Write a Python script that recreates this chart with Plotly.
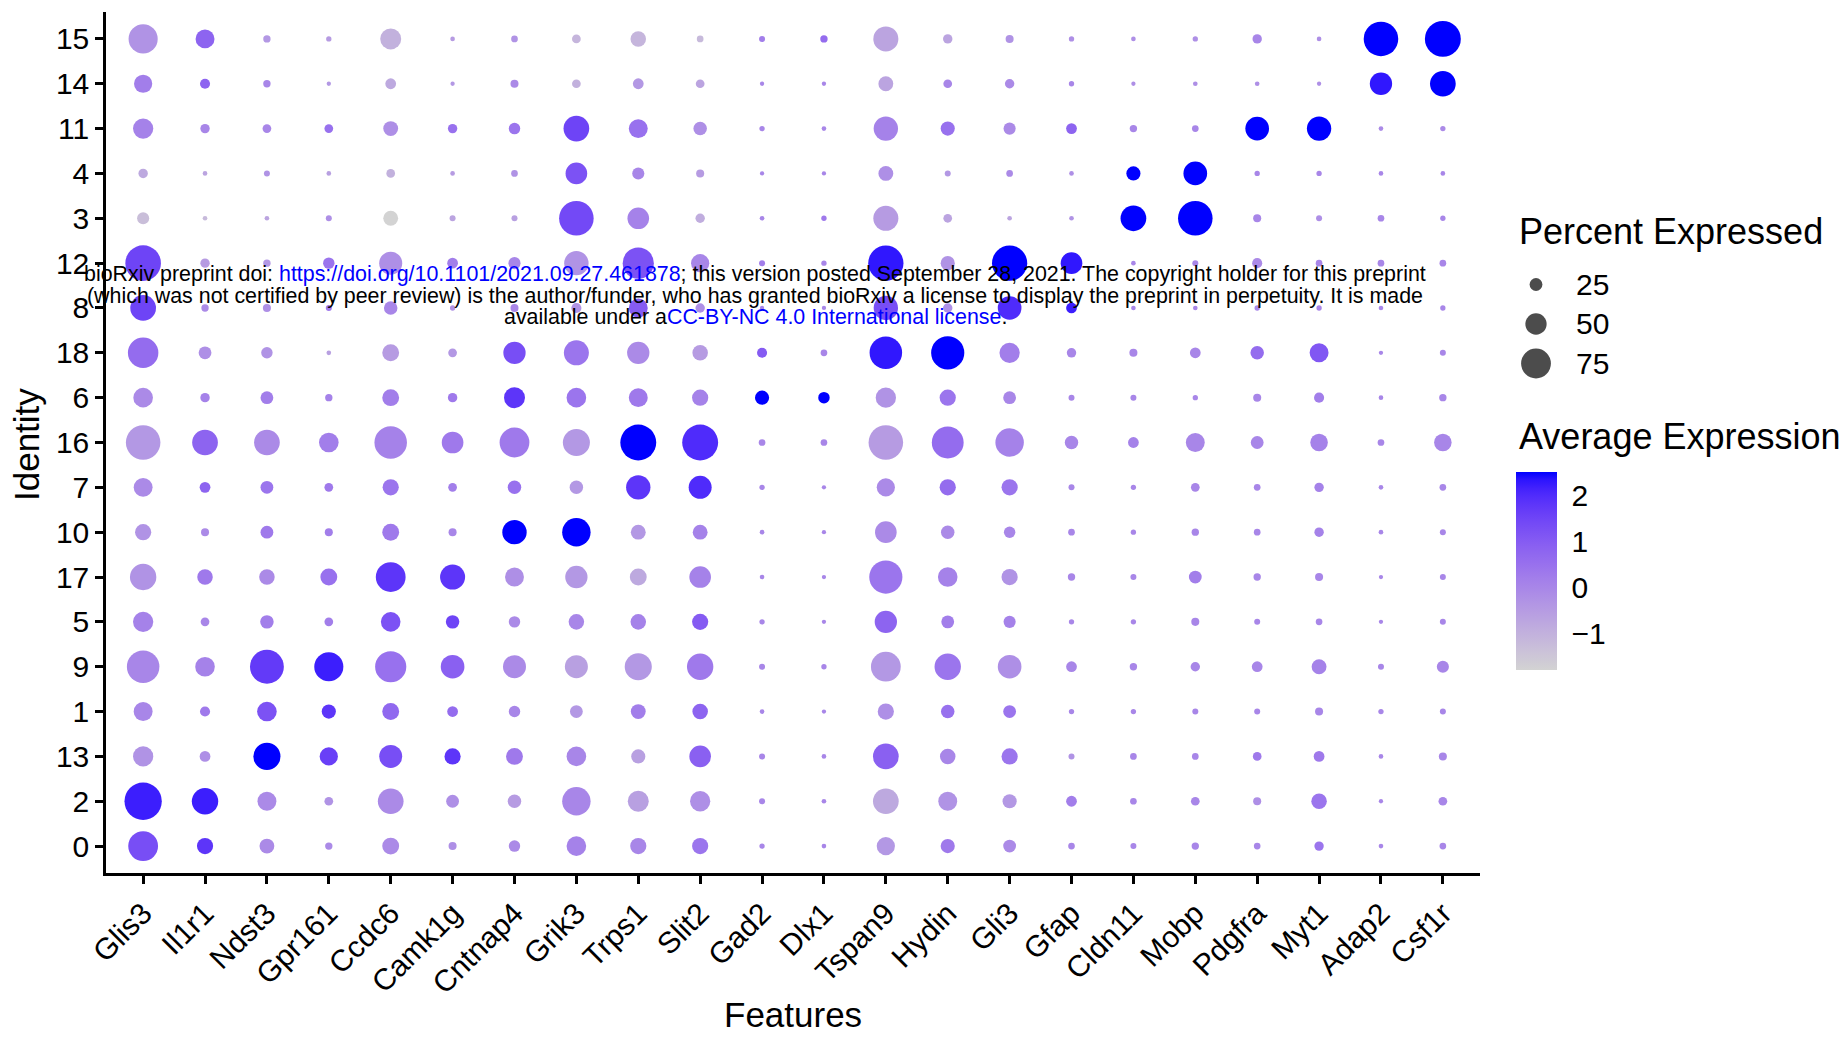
import plotly.graph_objects as go

W, H = 1844, 1038

features = ["Glis3", "Il1r1", "Ndst3", "Gpr161", "Ccdc6", "Camk1g", "Cntnap4", "Grik3",
            "Trps1", "Slit2", "Gad2", "Dlx1", "Tspan9", "Hydin", "Gli3", "Gfap",
            "Cldn11", "Mobp", "Pdgfra", "Myt1", "Adap2", "Csf1r"]

# identities from bottom to top
identities = ["0", "2", "13", "1", "9", "5", "17", "10", "7", "16", "6", "18", "8", "12", "3", "4", "11", "14", "15"]

# Percent expressed per identity (order of features)
pct_15 = [73, 43, 9, 3, 49, 1, 7, 13, 33, 7, 5, 9, 61, 15, 11, 3, 1, 3, 15, 1, 89, 93]
pct_14 = [41, 17, 9, 0, 19, 0, 11, 13, 19, 13, 0, 0, 31, 13, 15, 3, 0, 1, 1, 0, 53, 63]
pct_11 = [47, 15, 13, 13, 31, 15, 21, 63, 43, 27, 3, 1, 59, 29, 23, 19, 9, 7, 57, 59, 1, 3]
pct_4 = [15, 1, 5, 1, 13, 1, 7, 51, 23, 11, 0, 0, 31, 5, 7, 1, 29, 57, 3, 3, 1, 1]
pct_3 = [23, 1, 1, 5, 31, 5, 5, 89, 51, 15, 1, 3, 61, 13, 1, 1, 63, 89, 11, 5, 7, 3]
pct_12 = [92, 15, 9, 21, 55, 19, 23, 59, 79, 41, 5, 3, 91, 29, 91, 51, 1, 5, 17, 7, 7, 7]
pct_8 = [63, 9, 11, 5, 27, 3, 11, 17, 43, 15, 0, 0, 59, 15, 57, 19, 1, 1, 3, 3, 1, 3]
pct_18 = [77, 25, 21, 1, 37, 13, 53, 61, 53, 33, 17, 7, 83, 85, 47, 15, 11, 19, 27, 43, 0, 5]
pct_6 = [45, 15, 25, 9, 37, 15, 49, 45, 43, 35, 29, 21, 47, 35, 25, 5, 5, 3, 11, 17, 1, 9]
pct_16 = [89, 63, 63, 45, 83, 51, 75, 67, 93, 93, 7, 7, 89, 81, 71, 27, 19, 43, 25, 39, 7, 39]
pct_7 = [43, 19, 25, 13, 35, 13, 27, 27, 59, 55, 3, 0, 41, 35, 35, 5, 3, 13, 7, 15, 1, 7]
pct_10 = [35, 11, 25, 11, 37, 11, 59, 71, 31, 31, 1, 0, 51, 27, 21, 7, 3, 9, 7, 15, 1, 5]
pct_17 = [65, 33, 33, 37, 75, 61, 43, 53, 37, 51, 1, 0, 85, 45, 35, 9, 5, 25, 9, 11, 0, 5]
pct_5 = [47, 13, 27, 13, 45, 27, 21, 33, 33, 35, 3, 0, 53, 25, 23, 3, 3, 11, 5, 7, 0, 5]
pct_9 = [83, 45, 87, 73, 79, 57, 55, 55, 67, 65, 5, 3, 75, 65, 57, 19, 9, 15, 19, 31, 5, 23]
pct_1 = [43, 17, 45, 29, 37, 19, 21, 25, 31, 33, 1, 0, 35, 27, 25, 3, 3, 5, 5, 11, 3, 5]
pct_13 = [47, 19, 67, 41, 55, 35, 37, 45, 29, 51, 5, 1, 63, 33, 35, 5, 7, 7, 13, 19, 1, 11]
pct_2 = [97, 65, 43, 13, 63, 25, 27, 71, 49, 47, 5, 1, 63, 43, 29, 19, 7, 13, 11, 33, 0, 13]
pct_0 = [75, 35, 31, 9, 37, 11, 21, 45, 35, 35, 3, 1, 41, 29, 25, 7, 5, 9, 7, 15, 1, 7]

# Average (scaled) expression per identity
avg_15 = [-0.3, 0.8, -0.4, -0.5, -1.0, -0.5, -0.3, -1.1, -1.1, -1.2, 0.2, 0.6, -0.7, -0.7, -0.3, -0.2, -0.2, -0.2, 0.0, -0.2, 2.5, 2.5]
avg_14 = [0.2, 0.8, 0.0, -0.4, -0.8, -0.4, -0.1, -1.0, -0.4, -0.7, 0.0, 0.0, -0.7, 0.0, -0.1, 0.0, -0.2, -0.2, -0.2, -0.2, 2.3, 2.5]
avg_11 = [0.1, 0.0, 0.0, 0.5, -0.2, 0.5, 0.4, 1.5, 0.5, -0.2, 0.0, 0.0, 0.1, 0.5, -0.1, 0.8, 0.0, 0.0, 2.5, 2.5, -0.1, -0.1]
avg_4 = [-0.8, -0.7, -0.3, -0.6, -1.0, -0.5, -0.3, 1.2, 0.0, -0.5, 0.0, 0.0, -0.2, -0.4, -0.1, -0.2, 2.5, 2.5, 0.0, 0.0, 0.0, 0.0]
avg_3 = [-1.3, -1.2, -0.7, -0.2, -1.8, -0.7, -0.6, 1.4, 0.1, -0.9, 0.0, 0.3, -0.5, -0.7, -0.7, -0.3, 2.5, 2.5, 0.0, -0.2, 0.0, 0.0]
avg_12 = [1.5, -0.5, -0.4, 0.4, -0.2, 0.2, 0.0, -0.3, 1.2, 0.0, 0.2, 0.0, 2.3, -0.3, 2.5, 2.3, 0.0, 0.0, -0.1, 0.0, 0.0, 0.0]
avg_8 = [1.5, -0.1, -0.2, 0.3, 0.0, -0.3, 0.0, -0.3, 1.0, -0.2, 0.0, 0.0, 1.3, -0.2, 2.0, 2.2, 0.0, 0.0, 0.0, 0.0, 0.0, 0.0]
avg_18 = [0.6, -0.2, -0.3, -0.6, -0.5, -0.4, 1.3, 0.4, -0.1, -0.5, 1.0, 0.0, 2.3, 2.5, 0.2, 0.0, 0.0, 0.0, 0.6, 1.1, 0.0, 0.0]
avg_6 = [-0.1, 0.1, 0.2, 0.1, 0.2, 0.3, 1.8, 0.4, 0.3, 0.1, 2.5, 2.5, -0.3, 0.4, 0.0, 0.0, 0.0, 0.0, 0.0, 0.2, 0.0, 0.0]
avg_16 = [-0.4, 0.8, -0.1, 0.2, 0.1, 0.3, 0.3, -0.4, 2.5, 2.0, 0.0, 0.0, -0.5, 0.6, 0.1, 0.0, 0.1, 0.0, 0.0, 0.1, 0.0, 0.0]
avg_7 = [-0.1, 0.8, 0.4, 0.3, 0.4, 0.2, 0.5, -0.4, 1.8, 2.0, 0.0, 0.0, -0.1, 0.6, 0.4, 0.0, 0.0, 0.0, 0.0, 0.1, 0.0, 0.0]
avg_10 = [-0.3, -0.1, 0.3, 0.2, 0.3, 0.0, 2.5, 2.5, -0.4, 0.1, 0.0, 0.0, -0.1, -0.1, 0.0, 0.0, 0.0, 0.0, 0.0, 0.1, 0.0, 0.0]
avg_17 = [-0.3, 0.3, -0.1, 0.5, 1.8, 1.8, -0.2, -0.4, -0.8, 0.1, 0.0, 0.0, 0.4, 0.1, -0.3, 0.0, 0.0, 0.2, 0.0, 0.0, 0.0, 0.0]
avg_5 = [0.1, 0.0, 0.2, 0.2, 1.2, 1.5, -0.1, 0.0, 0.1, 1.0, 0.0, 0.0, 0.8, 0.2, 0.1, 0.0, 0.0, 0.0, 0.0, 0.0, 0.0, 0.0]
avg_9 = [0.0, 0.1, 1.7, 2.2, 0.5, 0.9, -0.1, -0.6, -0.4, 0.3, 0.0, 0.0, -0.4, 0.4, -0.2, 0.0, 0.0, 0.0, 0.0, 0.1, 0.0, 0.0]
avg_1 = [0.0, 0.3, 1.2, 1.8, 0.7, 0.6, 0.0, -0.4, 0.2, 0.8, 0.0, 0.0, -0.2, 0.5, 0.4, 0.0, 0.0, 0.0, 0.0, 0.0, 0.0, 0.0]
avg_13 = [-0.3, -0.2, 2.5, 1.6, 1.3, 1.8, 0.3, 0.0, -0.6, 0.9, 0.0, 0.0, 0.9, 0.0, 0.4, -0.3, 0.0, 0.0, 0.3, 0.3, 0.0, 0.0]
avg_2 = [2.2, 2.2, -0.1, -0.3, -0.1, -0.2, -0.5, 0.0, -0.6, -0.2, 0.0, 0.0, -0.8, -0.3, -0.4, 0.2, 0.0, 0.0, -0.2, 0.4, 0.0, 0.0]
avg_0 = [1.3, 1.8, -0.1, -0.1, -0.1, -0.2, -0.1, 0.1, 0.0, 0.4, 0.0, 0.0, -0.4, 0.3, -0.1, 0.0, 0.0, 0.0, 0.0, 0.4, 0.0, 0.0]

pct_by_id = {"15": pct_15, "14": pct_14, "11": pct_11, "4": pct_4, "3": pct_3, "12": pct_12,
             "8": pct_8, "18": pct_18, "6": pct_6, "16": pct_16, "7": pct_7, "10": pct_10,
             "17": pct_17, "5": pct_5, "9": pct_9, "1": pct_1, "13": pct_13, "2": pct_2, "0": pct_0}
avg_by_id = {"15": avg_15, "14": avg_14, "11": avg_11, "4": avg_4, "3": avg_3, "12": avg_12,
             "8": avg_8, "18": avg_18, "6": avg_6, "16": avg_16, "7": avg_7, "10": avg_10,
             "17": avg_17, "5": avg_5, "9": avg_9, "1": avg_1, "13": avg_13, "2": avg_2, "0": avg_0}

size_breaks = [25, 50, 75]
color_ticks = [-1, 0, 1, 2]
color_min, color_max = -1.79, 2.5


# ---- Lab-space gradient lightgrey -> blue (like ggplot2) ----
Xn, Yn, Zn = 0.95047, 1.0, 1.08883


def _lin(c):
    c = c / 255.0
    return c / 12.92 if c <= 0.04045 else ((c + 0.055) / 1.055) ** 2.4


def _unlin(c):
    c = max(0.0, min(1.0, c))
    v = 12.92 * c if c <= 0.0031308 else 1.055 * c ** (1 / 2.4) - 0.055
    return int(round(max(0.0, min(1.0, v)) * 255))


def rgb_to_lab(rgb):
    r, g, b = [_lin(v) for v in rgb]
    X = 0.4124564 * r + 0.3575761 * g + 0.1804375 * b
    Y = 0.2126729 * r + 0.7151522 * g + 0.0721750 * b
    Z = 0.0193339 * r + 0.1191920 * g + 0.9503041 * b
    f = lambda t: t ** (1 / 3) if t > 216 / 24389 else (24389 / 27 * t + 16) / 116
    fx, fy, fz = f(X / Xn), f(Y / Yn), f(Z / Zn)
    return 116 * fy - 16, 500 * (fx - fy), 200 * (fy - fz)


def lab_to_rgb(L, a, b):
    fy = (L + 16) / 116
    fx = fy + a / 500
    fz = fy - b / 200
    finv = lambda t: t ** 3 if t ** 3 > 216 / 24389 else (116 * t - 16) / (24389 / 27)
    X, Y, Z = Xn * finv(fx), Yn * finv(fy), Zn * finv(fz)
    r = 3.2404542 * X - 1.5371385 * Y - 0.4985314 * Z
    g = -0.9692660 * X + 1.8760108 * Y + 0.0415560 * Z
    bb = 0.0556434 * X - 0.2040259 * Y + 1.0572252 * Z
    return _unlin(r), _unlin(g), _unlin(bb)


lo = rgb_to_lab((211, 211, 211))
hi = rgb_to_lab((0, 0, 255))
colorscale = []
N = 24
for i in range(N + 1):
    t = i / N
    L, a, b = [lo[k] + (hi[k] - lo[k]) * t for k in range(3)]
    r, g, bb = lab_to_rgb(L, a, b)
    colorscale.append([t, f"rgb({r},{g},{bb})"])


def diam(p):
    return 4.3 + 0.34 * p


xs, ys, sizes, cols = [], [], [], []
for ident in identities:
    for j, feat in enumerate(features):
        xs.append(feat)
        ys.append(ident)
        sizes.append(diam(pct_by_id[ident][j]))
        cols.append(avg_by_id[ident][j])

FONT = "Liberation Sans, Arial, sans-serif"

# plot area in pixels
x0, x1, yt, yb = 106, 1480, 12, 873

fig = go.Figure()
fig.add_trace(go.Scatter(
    x=xs, y=ys, mode="markers",
    marker=dict(size=sizes, sizemode="diameter", color=cols, colorscale=colorscale,
                cmin=color_min, cmax=color_max, line=dict(width=0), opacity=1,
                colorbar=dict(x=1516 / W, xanchor="left", xpad=0, y=(H - 571) / H, yanchor="middle",
                              ypad=0, thickness=41, thicknessmode="pixels", len=198, lenmode="pixels",
                              outlinewidth=0, tickvals=color_ticks, ticks="outside", ticklen=9,
                              tickcolor="rgba(0,0,0,0)", tickwidth=1,
                              tickfont=dict(family=FONT, size=30, color="black"))),
    showlegend=False, xaxis="x", yaxis="y", hoverinfo="skip"))

# size legend
fig.add_trace(go.Scatter(
    x=[0] * len(size_breaks), y=[3, 2, 1], mode="markers",
    marker=dict(size=[diam(p) for p in size_breaks], sizemode="diameter", color="black", line=dict(width=0)),
    xaxis="x2", yaxis="y2", showlegend=False, hoverinfo="skip"))

annotations = []
for k, p in enumerate(size_breaks):
    annotations.append(dict(x=1574 / W, xref="paper", xanchor="left", y=3 - k, yref="y2", yanchor="middle",
                            text=str(p), showarrow=False, font=dict(family=FONT, size=30, color="black")))

annotations += [
    dict(x=1517 / W, y=(H - 231) / H, xref="paper", yref="paper", xanchor="left", yanchor="middle",
         text="Percent Expressed", showarrow=False, font=dict(family=FONT, size=36, color="black")),
    dict(x=1517 / W, y=(H - 437) / H, xref="paper", yref="paper", xanchor="left", yanchor="middle",
         text="Average Expression", showarrow=False, font=dict(family=FONT, size=36, color="black")),
    dict(x=26 / W, y=(H - 445) / H, xref="paper", yref="paper", xanchor="center", yanchor="middle",
         text="Identity", textangle=-90, showarrow=False, font=dict(family=FONT, size=35, color="black")),
    dict(x=793 / W, y=(H - 1014) / H, xref="paper", yref="paper", xanchor="center", yanchor="middle",
         text="Features", showarrow=False, font=dict(family=FONT, size=35, color="black")),
]

blue = "#0000FF"
wm_lines = [
    ("bioRxiv preprint doi: <span style='color:%s'>https://doi.org/10.1101/2021.09.27.461878</span>; "
     "this version posted September 28, 2021. The copyright holder for this preprint" % blue, 274),
    ("(which was not certified by peer review) is the author/funder, who has granted bioRxiv a license "
     "to display the preprint in perpetuity. It is made", 296),
    ("available under a<span style='color:%s'>CC-BY-NC 4.0 International license</span>." % blue, 317),
]
for txt, yy in wm_lines:
    annotations.append(dict(x=755 / W, y=(H - yy) / H, xref="paper", yref="paper", xanchor="center",
                            yanchor="middle", text=txt, showarrow=False,
                            font=dict(family=FONT, size=21.4, color="black")))

axis_common = dict(showline=True, linecolor="black", linewidth=2.5, ticks="outside", ticklen=8,
                   tickwidth=2.5, tickcolor="black", showgrid=False, zeroline=False,
                   tickfont=dict(family=FONT, size=30, color="black"), automargin=False)

fig.update_layout(
    width=W, height=H, margin=dict(l=0, r=0, t=0, b=0),
    paper_bgcolor="white", plot_bgcolor="white",
    xaxis=dict(domain=[x0 / W, x1 / W], type="category", categoryorder="array", categoryarray=features,
               range=[-0.6, len(features) - 1 + 0.6], tickangle=-45, anchor="y", **axis_common),
    yaxis=dict(domain=[(H - yb) / H, (H - yt) / H], type="category", categoryorder="array",
               categoryarray=identities, range=[-0.6, len(identities) - 1 + 0.6], anchor="x", **axis_common),
    xaxis2=dict(domain=[1516 / W, 1556 / W], range=[-1, 1], visible=False, anchor="y2", fixedrange=True),
    yaxis2=dict(domain=[(H - 383.25) / H, (H - 264.75) / H], range=[0.5, 3.5], visible=False, anchor="x2",
                fixedrange=True),
    annotations=annotations,
    font=dict(family=FONT, color="black"),
)

fig.write_html("out.html")
